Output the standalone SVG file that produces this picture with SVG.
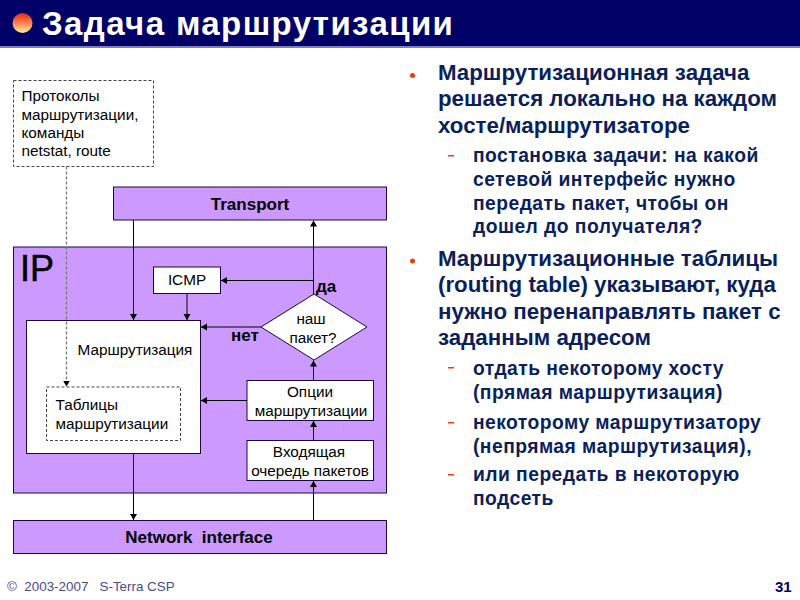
<svg xmlns="http://www.w3.org/2000/svg" width="800" height="600" viewBox="0 0 800 600">
<style>
text{font-family:"Liberation Sans",Arial,sans-serif}
.box{stroke:#1a0a40;stroke-width:1}
.p{fill:#cc99ff}
.w{fill:#fff}
.d{fill:#fff;stroke:#444;stroke-width:1;stroke-dasharray:3 2}
.t{font-size:15.3px;fill:#000}
.b{font-size:17px;font-weight:bold;fill:#000}
.c{text-anchor:middle}
.l1{font-size:22.3px;font-weight:bold;fill:#0a1f5c}
.l2{font-size:19.3px;font-weight:bold;fill:#0a1f5c;letter-spacing:.45px}
.ln{fill:none;stroke:#000;stroke-width:1}
.dash{fill:none;stroke:#777;stroke-width:1.300;stroke-dasharray:3 2}
.dot{fill:#e8400c}
</style>
<defs>
<marker id="a" markerUnits="userSpaceOnUse" markerWidth="8" markerHeight="8" refX="6" refY="3.5" orient="auto"><path d="M0 0L6 3.5L0 7Z" fill="#000"/></marker>
<linearGradient id="ball" x1="0" y1="0" x2="0" y2="1"><stop offset="0" stop-color="#e02810"/><stop offset=".5" stop-color="#ff8050"/><stop offset="1" stop-color="#fff2a0"/></linearGradient>
</defs>
<rect width="800" height="600" fill="#fff"/>
<g id="header">
<rect width="800" height="46" fill="#000066"/>
<rect y="46" width="800" height="2" fill="#7f7fc0"/>
<circle cx="22.500" cy="23" r="10" fill="url(#ball)"/>
<text x="42" y="35" font-size="33" font-weight="bold" fill="#fff" letter-spacing="1.400">Задача маршрутизации</text>
</g>
<g id="ip"><rect class="box p" x="13.500" y="247" width="373" height="246"/><text x="20" y="281" font-size="36" fill="#000" stroke="#000" stroke-width=".5">IP</text></g>
<g id="protocols"><rect class="d" x="13.500" y="80.500" width="140" height="86"/>
<text class="t" x="21.500" y="101">Протоколы</text><text class="t" x="21.500" y="120">маршрутизации,</text><text class="t" x="21.500" y="138">команды</text><text class="t" x="21.500" y="156">netstat, route</text></g>
<g id="transport"><rect class="box p" x="113.500" y="187" width="273" height="33"/><text class="b c" x="250" y="210">Transport</text></g>
<g id="icmp"><rect class="box w" x="153.500" y="267" width="67" height="26.500"/><text class="t c" x="187" y="285">ICMP</text></g>
<g id="routing"><rect class="box w" x="26.500" y="320.500" width="174" height="133"/><text class="t" x="77.500" y="355">Маршрутизация</text></g>
<g id="tables"><rect class="d" x="46.500" y="387" width="134" height="53.500"/><text class="t" x="55.500" y="410">Таблицы</text><text class="t" x="55.500" y="429">маршрутизации</text></g>
<g id="decision"><polygon class="box w" points="314,294 367,327 314,360 261,327"/><text class="t c" x="311" y="324">наш</text><text class="t c" x="313" y="343">пакет?</text></g>
<g id="options"><rect class="box w" x="247" y="380.500" width="126.500" height="40"/><text class="t c" x="310" y="397">Опции</text><text class="t c" x="311" y="416">маршрутизации</text></g>
<g id="queue"><rect class="box w" x="247" y="440.500" width="126.500" height="40"/><text class="t c" x="309" y="457">Входящая</text><text class="t c" x="310" y="476">очередь пакетов</text></g>
<g id="network"><rect class="box p" x="13.500" y="520.500" width="373" height="33"/><text class="b c" x="199" y="543" xml:space="preserve">Network  interface</text></g>
<g id="connectors">
<path class="dash" marker-end="url(#a)" d="M66.500 166.500V386.500"/>
<path class="ln" marker-end="url(#a)" d="M133.500 220V320"/>
<path class="ln" marker-end="url(#a)" d="M187 293.500V320"/>
<path class="ln" marker-end="url(#a)" d="M313.500 294V220.500"/>
<path class="ln" marker-end="url(#a)" d="M313.500 280.500H221"/>
<path class="ln" marker-end="url(#a)" d="M261 327H201"/>
<path class="ln" marker-end="url(#a)" d="M313.500 380.500V360.500"/>
<path class="ln" marker-end="url(#a)" d="M247 400.500H201"/>
<path class="ln" marker-end="url(#a)" d="M313.500 440.500V421"/>
<path class="ln" marker-end="url(#a)" d="M313.500 520.500V481"/>
<path class="ln" marker-end="url(#a)" d="M133.500 453.500V520"/>
</g>
<text class="b" x="316" y="292">да</text>
<text class="b" x="231" y="341">нет</text>
<g id="bullets">
<circle class="dot" cx="412.500" cy="75.500" r="2.500"/><circle class="dot" cx="412.500" cy="261" r="2.500"/>
<rect class="dot" x="448" y="155" width="6" height="1.500"/><rect class="dot" x="448" y="367" width="6" height="1.500"/><rect class="dot" x="448" y="422" width="6" height="1.500"/><rect class="dot" x="448" y="474" width="6" height="1.500"/>
</g>
<g id="text">
<text class="l1" x="438" y="80">Маршрутизационная задача</text>
<text class="l1" x="438" y="106">решается локально на каждом</text>
<text class="l1" x="438" y="133">хосте/маршрутизаторе</text>
<text class="l2" x="473" y="162">постановка задачи: на какой</text>
<text class="l2" x="473" y="186">сетевой интерфейс нужно</text>
<text class="l2" x="473" y="210">передать пакет, чтобы он</text>
<text class="l2" x="473" y="233">дошел до получателя?</text>
<text class="l1" x="438" y="266">Маршрутизационные таблицы</text>
<text class="l1" x="438" y="292">(routing table) указывают, куда</text>
<text class="l1" x="438" y="319">нужно перенаправлять пакет с</text>
<text class="l1" x="438" y="345">заданным адресом</text>
<text class="l2" x="473" y="375">отдать некоторому хосту</text>
<text class="l2" x="473" y="399">(прямая маршрутизация)</text>
<text class="l2" x="473" y="429">некоторому маршрутизатору</text>
<text class="l2" x="473" y="453">(непрямая маршрутизация),</text>
<text class="l2" x="473" y="481">или передать в некоторую</text>
<text class="l2" x="473" y="505">подсеть</text>
</g>
<g id="footer">
<text x="7" y="591" font-size="13.400" fill="#4a4a90" xml:space="preserve">©  2003-2007   S-Terra CSP</text>
<text x="775" y="592" font-size="15" font-weight="bold" fill="#000066">31</text>
</g>
</svg>
